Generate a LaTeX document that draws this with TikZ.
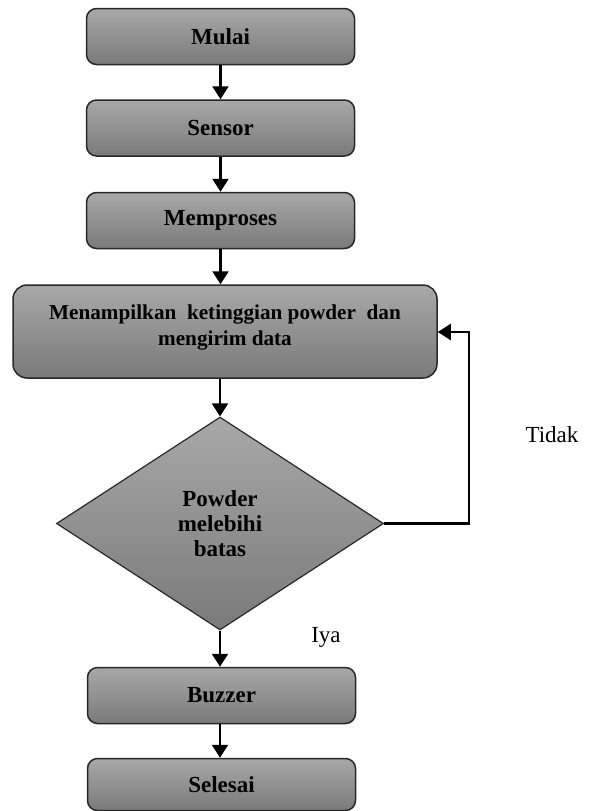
\documentclass[tikz,border=0pt]{standalone}
\usepackage{fontspec}
\setmainfont{Liberation Serif}
\usepackage{xcolor}
\usetikzlibrary{arrows.meta,shapes.geometric}

\definecolor{boxtop}{RGB}{168,168,168}
\definecolor{boxbot}{RGB}{122,122,122}
\definecolor{boxline}{RGB}{40,40,40}

\begin{document}
\begin{tikzpicture}[x=0.5pt, y=-0.5pt,
    proses/.style={draw=boxline, line width=0.75pt, rounded corners=5pt,
      top color=boxtop, bottom color=boxbot,
      minimum width=134pt, minimum height=28pt, inner sep=0pt,
      font=\fontsize{11.5}{13}\selectfont\bfseries, align=center},
    keputusan/.style={draw=boxline, line width=0.6pt, shape=diamond,
      top color=boxtop, bottom color=boxbot,
      minimum width=163.5pt, minimum height=106.5pt, inner sep=0pt,
      font=\fontsize{11.5}{12.5}\selectfont\bfseries, align=center},
    panah/.style={line width=1.15pt, -{Triangle[width=8pt,length=6.5pt]}},
    ket/.style={font=\fontsize{11.5}{13}\selectfont}]
      % \draw[help lines] (0,0) grid[step=50] (591,811);
      \useasboundingbox (0,0) rectangle (591,811);

      \node[proses] (mulai) at (220.5,36.5) {Mulai};
      \node[proses] (sensor) at (220.5,128) {Sensor};
      \node[proses] (proses) at (220.5,220.5) {Memproses};
      \node[proses, minimum width=212pt, minimum height=46.5pt, rounded corners=7pt] (tampil) at (225,331.5) {};
      \node[font=\fontsize{10.6}{13}\selectfont\bfseries, align=center] (tampilteks) at (225,327)
        {Menampilkan\ \ ketinggian powder\ \ dan\\ mengirim data};
      \node[keputusan] (cek) at (220,523.5) {Powder\\ melebihi\\ batas};
      \node[proses] (buzzer) at (221.5,695.5) {Buzzer};
      \node[proses, minimum height=26pt] (selesai) at (221.5,784.5) {Selesai};

      % alur utama
      \draw[panah] (mulai) -- (sensor);
      \draw[panah] (sensor) -- (proses);
      \draw[panah] (proses) -- (tampil.north -| proses.south);
      \draw[panah] (tampil.south -| cek.north) -- (cek);
      \draw[panah] (cek) -- (buzzer.north -| cek.south);
      \draw[panah] (buzzer.south -| cek.south) -- (selesai.north -| cek.south);

      % kembali jika tidak
      \coordinate (balik) at (469,332);
      \draw[panah] (cek.east) -| (balik) -- (tampil.east |- balik);

      \node[ket] (tidak) at (552,435) {Tidak};
      \node[ket] (iya) at (326,637) {Iya};
    \end{tikzpicture}
\end{document}
